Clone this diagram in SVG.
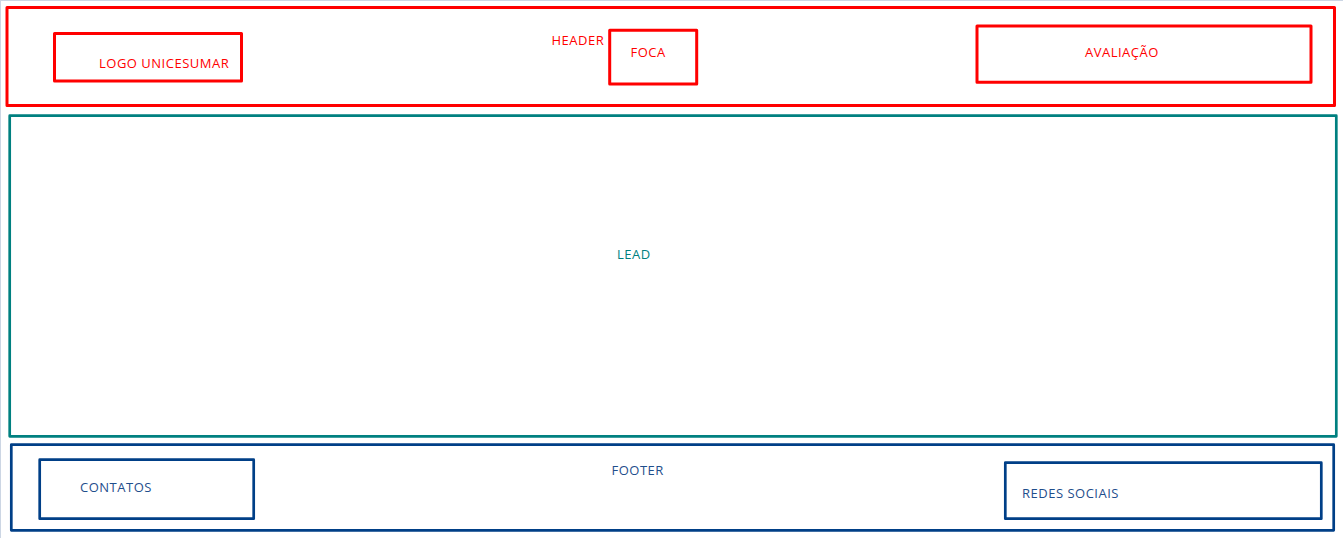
<svg xmlns="http://www.w3.org/2000/svg" width="1343" height="538" viewBox="0 0 1343 538">
<style>
  .box { fill: none; stroke-linejoin: round; }
  .red { stroke: #ff0000; stroke-width: 3; }
  .teal { stroke: #008080; stroke-width: 2.7; }
  .navy { stroke: #003f87; stroke-width: 2.7; }
  text { font-family: "Open Sans", "Noto Sans", "DejaVu Sans", sans-serif; font-size: 13px; letter-spacing: 0.5px; }
  .tred { fill: #ff0000; }
  .tteal { fill: #008080; }
  .tnavy { fill: #1f4e8c; }
</style>
<rect x="0" y="0" width="1343" height="538" fill="#ffffff"/>
<g id="frame">
  <line x1="0" y1="0.5" x2="1343" y2="0.5" stroke="#ccd6e4" stroke-width="1"/>
  <line x1="0.5" y1="0" x2="0.5" y2="538" stroke="#ccd6e4" stroke-width="1"/>
</g>
<g id="header">
  <rect class="box red" x="7" y="7.5" width="1327.5" height="98"/>
  <text class="tred" x="551.5" y="45">HEADER</text>
</g>
<g id="logo">
  <rect class="box red" x="54.5" y="33.5" width="187" height="47.5"/>
  <text class="tred" x="99" y="67.5">LOGO UNICESUMAR</text>
</g>
<g id="foca">
  <rect class="box red" x="609.7" y="30.3" width="87" height="53.7"/>
  <text class="tred" x="630.5" y="56.5">FOCA</text>
</g>
<g id="avaliacao">
  <rect class="box red" x="977" y="26" width="334" height="56.3"/>
  <text class="tred" x="1085" y="57">AVALIAÇÃO</text>
</g>
<g id="lead">
  <rect class="box teal" x="9.7" y="115.7" width="1326.6" height="320.6"/>
  <text class="tteal" x="617" y="259">LEAD</text>
</g>
<g id="footer">
  <rect class="box navy" x="11.3" y="444.7" width="1322.4" height="85.6"/>
  <text class="tnavy" x="611.5" y="474.5">FOOTER</text>
</g>
<g id="contatos">
  <rect class="box navy" x="39.7" y="459.7" width="214" height="59"/>
  <text class="tnavy" x="80" y="491.5">CONTATOS</text>
</g>
<g id="redes-sociais">
  <rect class="box navy" x="1005.3" y="462.7" width="316" height="56"/>
  <text class="tnavy" x="1022" y="497.5">REDES SOCIAIS</text>
</g>
<g id="connectors"></g>
</svg>
